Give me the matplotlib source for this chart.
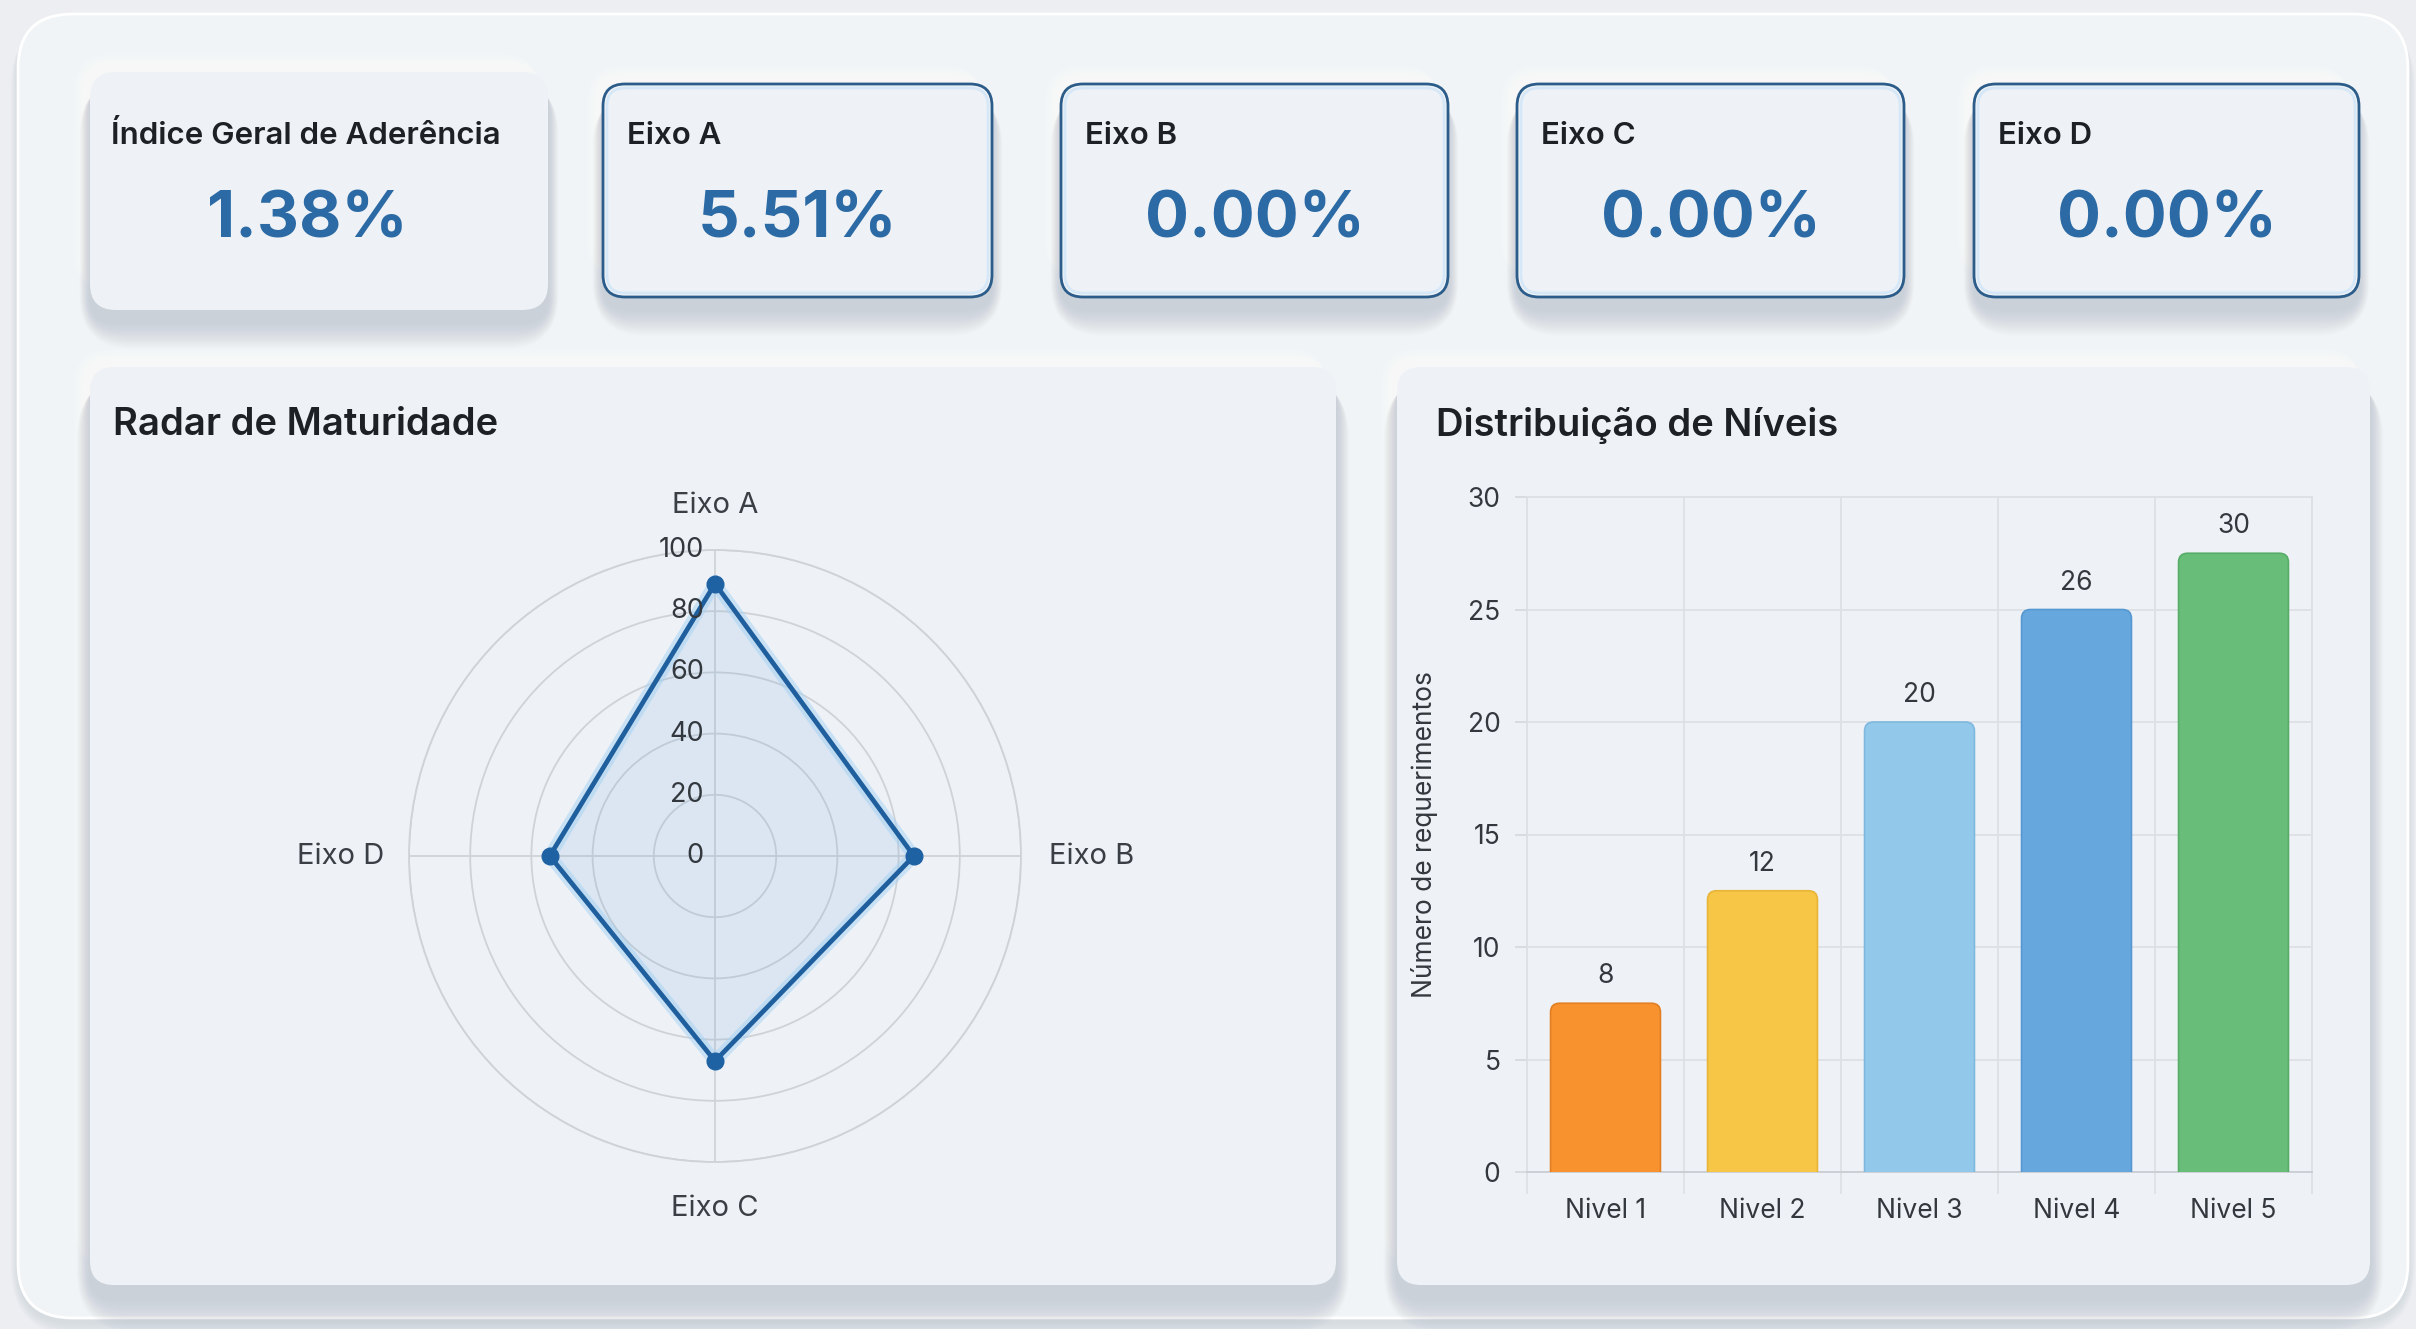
import numpy as np
import matplotlib
matplotlib.use("Agg")
import matplotlib.pyplot as plt
from matplotlib.patches import FancyBboxPatch
from matplotlib import font_manager

# ---------------- data ----------------
kpi_labels = ["Índice Geral de Aderência", "Eixo A", "Eixo B", "Eixo C", "Eixo D"]
kpi_values = ["1.38%", "5.51%", "0.00%", "0.00%", "0.00%"]

radar_axes = ["Eixo A", "Eixo B", "Eixo C", "Eixo D"]
radar_values = [89, 65, 67, 54]
radar_ticks = [0, 20, 40, 60, 80, 100]

levels = ["Nivel 1", "Nivel 2", "Nivel 3", "Nivel 4", "Nivel 5"]
level_heights = [7.5, 12.5, 20, 25, 27.5]
level_labels = ["8", "12", "20", "26", "30"]
level_colors = ["#f7922f", "#f8c646", "#92c8ea", "#66a8de", "#68be79"]
level_edges = ["#e27f22", "#e8b437", "#7fb8de", "#5597d0", "#57ad68"]
bar_yticks = [0, 5, 10, 15, 20, 25, 30]

# ---------------- fonts ----------------
names = {f.name for f in font_manager.fontManager.ttflist}
FONT = "Inter" if "Inter" in names else "DejaVu Sans"
plt.rcParams["font.family"] = [FONT, "DejaVu Sans"]

W, H = 2416, 1329
DPI = 100
fig = plt.figure(figsize=(W / DPI, H / DPI), dpi=DPI)
fig.patch.set_facecolor("#eceef1")

bg = fig.add_axes([0, 0, 1, 1])
bg.set_xlim(0, W)
bg.set_ylim(H, 0)
bg.axis("off")

PANEL = "#eef2f6"
TXT = "#1d2126"


def rbox(x0, y0, x1, y1, r, fc, ec="none", lw=0, alpha=1.0, z=1):
    p = FancyBboxPatch((x0 + r, y0 + r), (x1 - x0) - 2 * r, (y1 - y0) - 2 * r,
                       boxstyle=f"round,pad={r},rounding_size={r}",
                       fc=fc, ec=ec, lw=lw, alpha=alpha, zorder=z)
    bg.add_patch(p)
    return p


def shadow(x0, y0, x1, y1, r, dy=12, spread=34, n=22, color="#7a8593", a=0.011, z=1.5):
    # soft light highlight at the top-left
    for k in range(6):
        g = 12 * (6 - k) / 6
        rbox(x0 - g - 4, y0 - g - 6, x1 - 10, y1 - 20, r + g, fc="white", alpha=0.12, z=z)
    for k in range(n):
        g = spread * (n - k) / n
        rbox(x0 - g * 0.35, y0 + dy - g * 0.1, x1 + g * 0.35, y1 + dy + g * 0.9, r + g,
             fc=color, alpha=a, z=z + 0.01)


# outer container
for k in range(8):
    g = 14 * (8 - k) / 8
    rbox(18 - g * 0.5, 14 + 4, 2408 + g * 0.5, 1318 + 4 + g, 55 + g, fc="#8a94a0",
         alpha=0.025, z=0.5)
rbox(18, 14, 2408, 1318, 55, fc="#f1f4f7", ec="#ffffff", lw=2, z=0.8)

# ---------------- KPI cards ----------------
cards = [(90, 72, 548, 310), (603, 84, 992, 297), (1061, 84, 1448, 297),
         (1517, 84, 1904, 297), (1974, 84, 2359, 297)]
for i, (x0, y0, x1, y1) in enumerate(cards):
    shadow(x0, y0, x1, y1, 24, dy=12, spread=30)
    if i == 0:
        rbox(x0, y0, x1, y1, 26, fc=PANEL, z=2)
        lx = x0 + 21
    else:
        rbox(x0, y0, x1, y1, 22, fc=PANEL, ec="#2b5c8a", lw=2.0, z=2)
        rbox(x0 + 4, y0 + 4, x1 - 4, y1 - 4, 18, fc="none", ec="#d6e8f7", lw=2.0, z=2.1)
        lx = x0 + 24
    bg.text(lx, 136, kpi_labels[i], fontsize=22.5, fontweight="semibold",
            color=TXT, ha="left", va="center", zorder=3)
    bg.text((x0 + x1) / 2 - (12 if i == 0 else 0), 221, kpi_values[i], fontsize=47,
            fontweight="bold", color="#2b6aa4", ha="center", va="center", zorder=3)

# ---------------- chart panels ----------------
panels = [(90, 367, 1336, 1285), (1397, 367, 2370, 1285)]
for (x0, y0, x1, y1) in panels:
    shadow(x0, y0, x1, y1, 24, dy=14, spread=38)
    rbox(x0, y0, x1, y1, 24, fc=PANEL, z=2)

bg.text(113, 425, "Radar de Maturidade", fontsize=27.5, fontweight="semibold",
        color=TXT, ha="left", va="center", zorder=3)
bg.text(1436, 425, "Distribuição de Níveis", fontsize=27.5, fontweight="semibold",
        color=TXT, ha="left", va="center", zorder=3)

# ---------------- radar ----------------
cx, cy, R = 715, 856, 306
rax = fig.add_axes([(cx - R) / W, (H - cy - R) / H, 2 * R / W, 2 * R / H], projection="polar")
rax.set_facecolor("none")
rax.set_theta_offset(np.pi / 2)
rax.set_theta_direction(-1)
rax.set_ylim(0, 100)
theta = np.linspace(0, 2 * np.pi, len(radar_axes), endpoint=False)
rax.set_xticks(theta)
rax.set_xticklabels([])
rax.set_yticks(radar_ticks[1:])
rax.set_yticklabels([])
rax.grid(True, color="#cfd3d8", lw=1.3)
rax.spines["polar"].set_color("#cfd3d8")
rax.spines["polar"].set_linewidth(1.3)
rax.tick_params(length=0)

tt = np.append(theta, theta[0])
vv = np.append(radar_values, radar_values[0])
rax.fill(tt, vv, color="#3a86cf", alpha=0.10, zorder=2)
rax.plot(tt, vv, color="#a9d3f3", lw=9, alpha=0.55, zorder=3, solid_joinstyle="round")
rax.plot(tt, vv, color="#1f5f9d", lw=3.4, zorder=4, solid_joinstyle="round")
rax.plot(theta, radar_values, "o", color="#1f62a3", ms=12, zorder=5)

for t in radar_ticks:
    rax.annotate(str(t), xy=(0, t), xytext=(-8, 0), textcoords="offset points",
                 ha="right", va="center", fontsize=19.5, color="#33383e", zorder=6,
                 annotation_clip=False)

offsets = [(0, 22, "center", "bottom"), (20, 0, "left", "center"),
           (0, -24, "center", "top"), (-18, 0, "right", "center")]
for th, lab, (dx, dy, ha, va) in zip(theta, radar_axes, offsets):
    rax.annotate(lab, xy=(th, 100), xytext=(dx, dy), textcoords="offset points",
                 ha=ha, va=va, fontsize=21, color="#3a3f45", annotation_clip=False)

# ---------------- bar chart ----------------
L, Rr, T, B = 1527, 2312, 497, 1172
bax = fig.add_axes([L / W, (H - B) / H, (Rr - L) / W, (B - T) / H])
bax.set_facecolor("none")
bax.set_xlim(-0.5, len(levels) - 0.5)
bax.set_ylim(0, 30)
x = np.arange(len(levels))
bw = 0.70
px_x = (len(levels)) / (Rr - L)
px_y = 30 / (B - T)
rs = 9 * px_x
for xi, h, fc, ec in zip(x, level_heights, level_colors, level_edges):
    p = FancyBboxPatch((xi - bw / 2, -1), bw, h + 1,
                       boxstyle=f"round,pad=0,rounding_size={rs}",
                       mutation_aspect=px_y / px_x, fc=fc, ec=ec, lw=1.2, zorder=3,
                       clip_on=True)
    bax.add_patch(p)
    p.set_clip_path(bax.patch)
for xi, h, lab in zip(x, level_heights, level_labels):
    bax.annotate(lab, xy=(xi, h), xytext=(0, 10), textcoords="offset points",
                 ha="center", va="bottom", fontsize=19, color="#33383e")

bax.set_yticks(bar_yticks)
bax.set_yticklabels([str(v) for v in bar_yticks], fontsize=19, color="#33383e")
bax.set_xticks(x)
bax.set_xticklabels(levels, fontsize=19, color="#33383e")
bax.set_xticks(np.arange(-0.5, len(levels)), minor=True)
bax.tick_params(axis="x", which="major", length=0, pad=19)
bax.tick_params(axis="x", which="minor", length=16, color="#dde1e5", width=1.2)
bax.tick_params(axis="y", which="major", length=9, color="#d4d8dc", width=1.2, pad=10)
bax.grid(True, axis="y", which="major", color="#dde1e5", lw=1.3, zorder=0)
bax.grid(True, axis="x", which="minor", color="#dde1e5", lw=1.3, zorder=0)
for s in bax.spines.values():
    s.set_color("#dde1e5")
    s.set_linewidth(1.3)
bax.spines["bottom"].set_color("#c9ced4")
bax.set_ylabel("Número de requerimentos", fontsize=19, color="#33383e")
bax.yaxis.set_label_coords((1438 - L) / (Rr - L), 0.5)

fig.savefig("out.png", dpi=DPI, facecolor=fig.get_facecolor())
